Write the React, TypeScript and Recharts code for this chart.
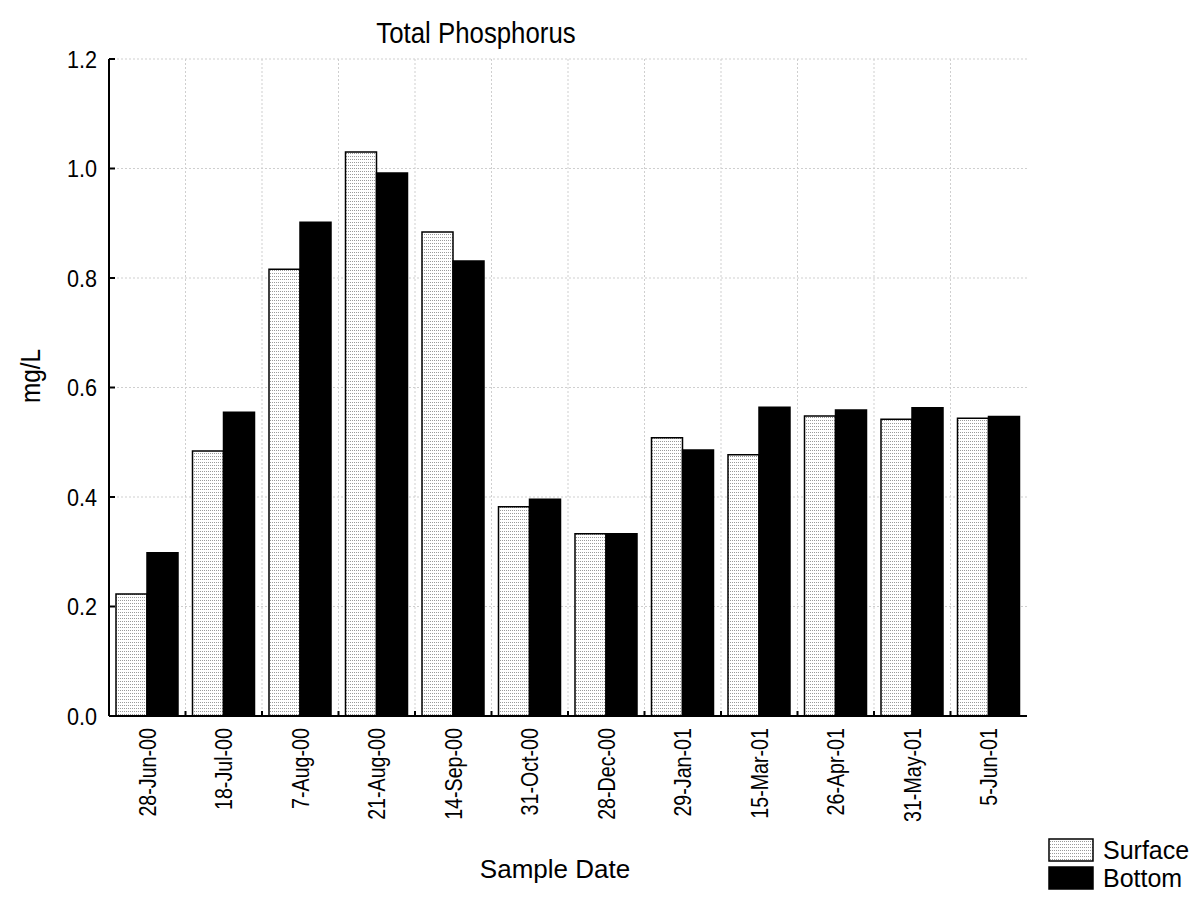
import { BarChart, Bar, XAxis, YAxis, CartesianGrid, Legend } from "recharts";

const SAMPLE_DATES = [
  "28-Jun-00",
  "18-Jul-00",
  "7-Aug-00",
  "21-Aug-00",
  "14-Sep-00",
  "31-Oct-00",
  "28-Dec-00",
  "29-Jan-01",
  "15-Mar-01",
  "26-Apr-01",
  "31-May-01",
  "5-Jun-01",
];
const SURFACE_TP = [0.223, 0.484, 0.816, 1.03, 0.884, 0.382, 0.333, 0.508, 0.477, 0.548, 0.542, 0.544];
const BOTTOM_TP = [0.298, 0.555, 0.902, 0.992, 0.831, 0.396, 0.333, 0.486, 0.564, 0.559, 0.563, 0.547];
const MG_L_TICKS = [0, 0.2, 0.4, 0.6, 0.8, 1.0, 1.2];
const SERIES_ORDER = ["surface", "bottom"];

const FONT = '"Liberation Sans", Arial, sans-serif';
const INK = "#000";
const LABEL_SIZE = 24;
const SQUEEZE = 0.82;
const Y_MARGIN = 12;
const X_MARGIN = 12;

const data = SAMPLE_DATES.map((date, i) => ({
  date,
  surface: SURFACE_TP[i],
  bottom: BOTTOM_TP[i],
}));

// narrow-set text: scaled along its own reading direction
function NarrowText({ x, y, angle = 0, sx = SQUEEZE, children, ...rest }: any) {
  return (
    <text
      transform={`translate(${x},${y}) rotate(${angle}) scale(${sx},1)`}
      fontFamily={FONT}
      fill={INK}
      {...rest}
    >
      {children}
    </text>
  );
}

// left axis: value label outside, short tick mark pointing into the plot
function LeftTick(props: any) {
  const { x, y, payload } = props;
  const axisX = x + Y_MARGIN;
  return (
    <g>
      <line x1={axisX} x2={axisX + 6} y1={y} y2={y} stroke={INK} strokeWidth={2} />
      <NarrowText x={x} y={y} sx={0.9} dy="0.36em" textAnchor="end" fontSize={LABEL_SIZE}>
        {Number(payload.value).toFixed(1)}
      </NarrowText>
    </g>
  );
}

function RightTick(props: any) {
  const { x, y } = props;
  return <line x1={x - 6} x2={x} y1={y} y2={y} stroke={INK} strokeWidth={2} />;
}

// bottom axis: rotated date label at the band centre, tick mark on the band edge
function DateTick(props: any) {
  const { x, y, payload, index, visibleTicksCount, width } = props;
  const half = payload.offset || width / visibleTicksCount / 2;
  const axisY = y - X_MARGIN;
  return (
    <g>
      {index < visibleTicksCount - 1 && (
        <line x1={x + half} x2={x + half} y1={axisY} y2={axisY - 5} stroke={INK} strokeWidth={2} />
      )}
      <NarrowText x={x} y={y} angle={-90} dy="0.36em" textAnchor="end" fontSize={LABEL_SIZE}>
        {payload.value}
      </NarrowText>
    </g>
  );
}

function TopTick(props: any) {
  const { x, y, payload, index, visibleTicksCount, width } = props;
  const half = payload.offset || width / visibleTicksCount / 2;
  if (index >= visibleTicksCount - 1) return <g />;
  return <line x1={x + half} x2={x + half} y1={y} y2={y + 5} stroke={INK} strokeWidth={2} />;
}

function SwatchLegend(props: any) {
  const entries = [...(props.payload || [])].sort(
    (a: any, b: any) => SERIES_ORDER.indexOf(a.dataKey) - SERIES_ORDER.indexOf(b.dataKey)
  );
  return (
    <div style={{ fontFamily: FONT, fontSize: 25, color: INK, lineHeight: 1 }}>
      {entries.map((entry: any) => (
        <div key={entry.value} style={{ display: "flex", alignItems: "center", height: 28 }}>
          <svg width={46} height={24} style={{ marginRight: 9 }}>
            <defs>
              <pattern id={`lg-${entry.dataKey}`} width={2} height={3} patternUnits="userSpaceOnUse">
                <rect width={2} height={3} fill="#fff" />
                <rect width={1} height={1} fill="#9a9a9a" />
              </pattern>
            </defs>
            <rect
              x={1}
              y={1}
              width={44}
              height={22}
              fill={entry.dataKey === "surface" ? `url(#lg-${entry.dataKey})` : INK}
              stroke={INK}
              strokeWidth={1.5}
            />
          </svg>
          <span>{entry.value}</span>
        </div>
      ))}
    </div>
  );
}

export default function App() {
  return (
    <div style={{ position: "absolute", left: 0, top: 0, background: "#fff" }}>
      <BarChart
        width={1204}
        height={906}
        data={data}
        margin={{ top: 59, right: 177, bottom: 60, left: 49 }}
        barCategoryGap={7}
        barGap={0}
      >
        <defs>
          <pattern id="surfaceDots" width={2} height={3} patternUnits="userSpaceOnUse">
            <rect width={2} height={3} fill="#fff" />
            <rect width={1} height={1} fill="#9a9a9a" />
          </pattern>
        </defs>
        <CartesianGrid
          xAxisId="cat"
          yAxisId="left"
          stroke="#cfcfcf"
          strokeDasharray="2 2"
          verticalCoordinatesGenerator={({ offset }: any) =>
            SAMPLE_DATES.slice(1).map((_, k) => offset.left + ((k + 1) * offset.width) / SAMPLE_DATES.length)
          }
        />
        <XAxis
          xAxisId="cat"
          dataKey="date"
          interval={0}
          height={130}
          tickSize={0}
          tickMargin={X_MARGIN}
          tickLine={false}
          axisLine={{ stroke: INK, strokeWidth: 2 }}
          tick={<DateTick />}
        />
        <XAxis
          xAxisId="top"
          orientation="top"
          dataKey="date"
          interval={0}
          height={0}
          tickSize={0}
          tickMargin={0}
          tickLine={false}
          axisLine={{ stroke: INK, strokeWidth: 2 }}
          tick={<TopTick />}
        />
        <YAxis
          yAxisId="left"
          domain={[0, 1.2]}
          ticks={MG_L_TICKS}
          width={60}
          tickSize={0}
          tickMargin={Y_MARGIN}
          tickLine={false}
          axisLine={{ stroke: INK, strokeWidth: 2 }}
          tick={<LeftTick />}
        />
        <YAxis
          yAxisId="right"
          orientation="right"
          domain={[0, 1.2]}
          ticks={MG_L_TICKS}
          width={0}
          tickSize={0}
          tickMargin={0}
          tickLine={false}
          axisLine={{ stroke: INK, strokeWidth: 2 }}
          tick={<RightTick />}
        />
        <Bar
          xAxisId="cat"
          yAxisId="left"
          dataKey="surface"
          name="Surface"
          fill="url(#surfaceDots)"
          stroke={INK}
          strokeWidth={1.5}
          isAnimationActive={false}
        />
        <Bar
          xAxisId="cat"
          yAxisId="left"
          dataKey="bottom"
          name="Bottom"
          fill={INK}
          stroke={INK}
          strokeWidth={1.5}
          isAnimationActive={false}
        />
        <Legend
          layout="vertical"
          align="center"
          verticalAlign="middle"
          content={<SwatchLegend />}
          wrapperStyle={{ left: 1048, top: 836, width: 156 }}
        />
        <NarrowText x={476} y={43} sx={0.86} textAnchor="middle" fontSize={30}>
          Total Phosphorus
        </NarrowText>
        <NarrowText x={30} y={376} angle={-90} sx={0.9} dy="0.36em" textAnchor="middle" fontSize={27}>
          mg/L
        </NarrowText>
        <text x={555} y={878} textAnchor="middle" fontSize={26} fontFamily={FONT} fill={INK}>
          Sample Date
        </text>
      </BarChart>
    </div>
  );
}
